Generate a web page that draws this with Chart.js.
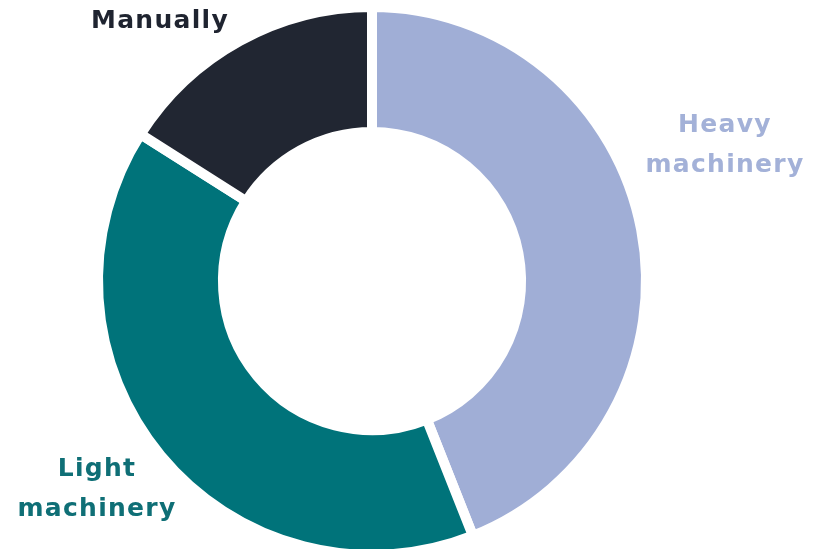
<!DOCTYPE html>
<html>
<head>
<meta charset="utf-8">
<script src="https://cdn.jsdelivr.net/npm/chart.js@4.4.0/dist/chart.umd.min.js"></script>
<style>
  html, body { margin: 0; padding: 0; background: #fff; overflow: hidden; width: 813px; height: 549px; }
  #wrap { position: absolute; left: 0; top: 0; width: 813px; height: 600px; }
  .lbl {
    position: absolute; width: 200px; text-align: center;
    font-family: 'DejaVu Sans', sans-serif; font-weight: bold;
    font-size: 25px; line-height: 40px; letter-spacing: 1.3px;
  }
</style>
</head>
<body>
<div id="wrap"><canvas id="donut"></canvas></div>
<div class="lbl" id="lblHeavy" style="left:625px; top:104px; color:#a3b1d8;">Heavy<br>machinery</div>
<div class="lbl" id="lblLight" style="left:-3px; top:448px; color:#0f6f76;">Light<br>machinery</div>
<div class="lbl" id="lblManual" style="left:60px; top:0px; color:#1f2430;">Manually</div>
<script>
// data (share of work, %)
const categories = ['Heavy machinery', 'Light machinery', 'Manually'];
const shares = [44, 40, 16];
const colours = ['#a0aed6', '#00737a', '#212632'];

document.addEventListener('DOMContentLoaded', () => {
    const ctx = document.getElementById('donut').getContext('2d');
    new Chart(ctx, {
        type: 'doughnut',
        data: {
            labels: categories,
            datasets: [{
                data: shares,
                backgroundColor: colours,
                borderColor: '#ffffff',
                borderWidth: 10,
                hoverOffset: 0
            }]
        },
        options: {
            responsive: true,
            maintainAspectRatio: false,
            animation: false,
            cutout: '54.4%',
            // ring centred at (372, 281), outer radius ~269
            layout: { padding: { left: 93, right: 162, top: 2, bottom: 40 } },
            plugins: { legend: { display: false }, tooltip: { enabled: false } },
            events: []
        }
    });
});
</script>
</body>
</html>
